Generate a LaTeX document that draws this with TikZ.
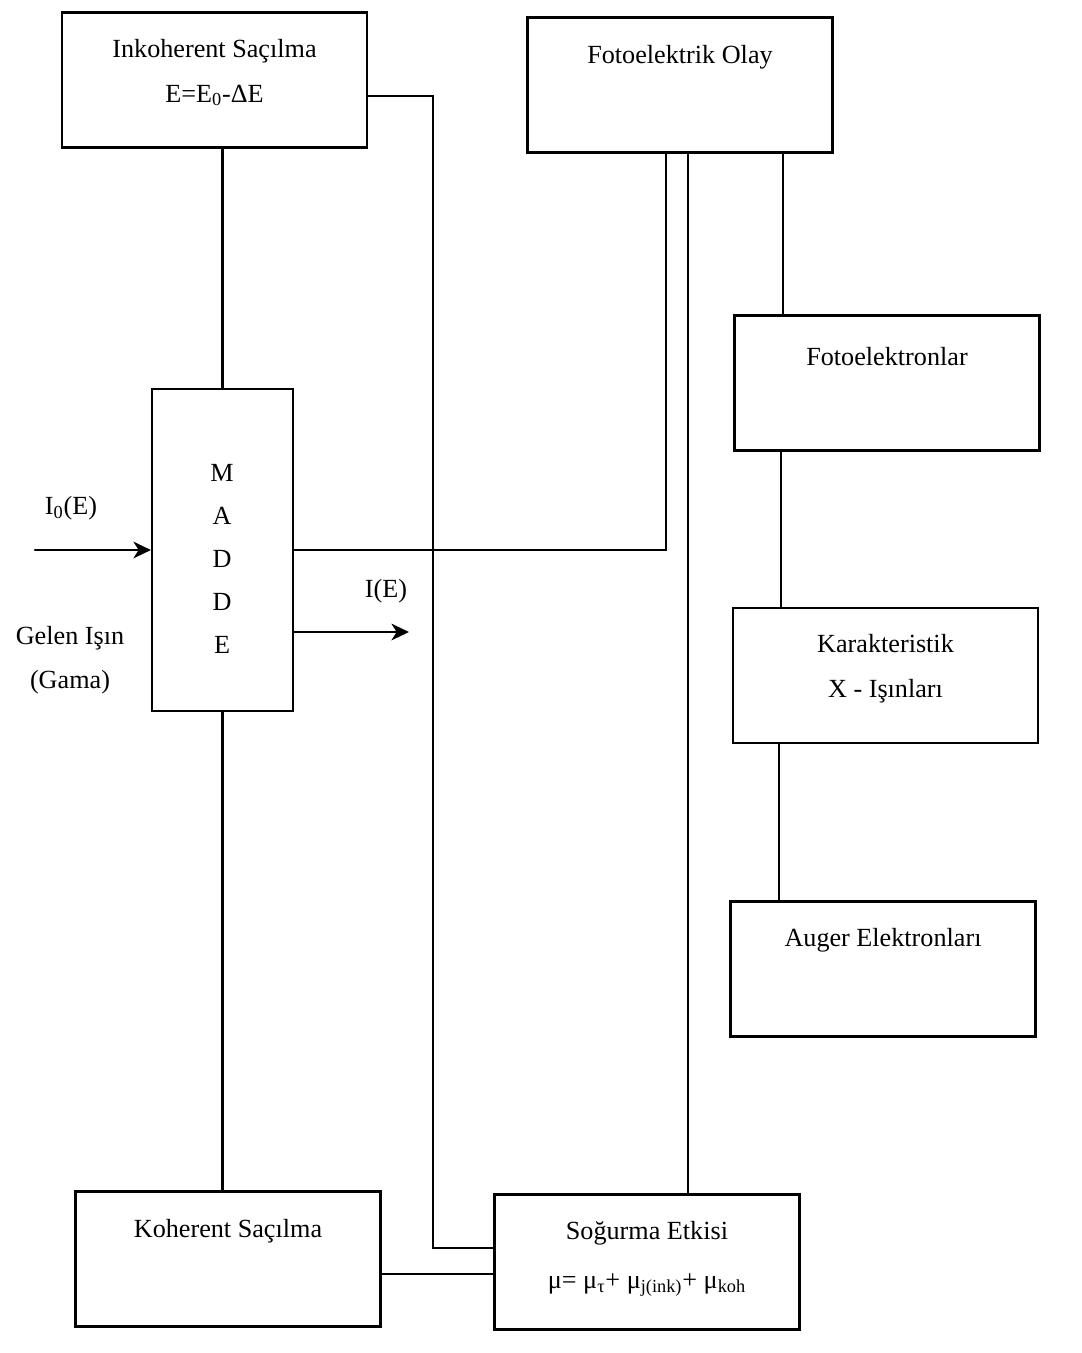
\documentclass[tikz,border=0pt]{standalone}
\usepackage{fontspec}
\setmainfont{Liberation Serif}
\usetikzlibrary{calc, arrows.meta}

\begin{document}
\begin{tikzpicture}
	[x=0.02cm,y=-0.02cm,line cap=round,
	%Styles
	block/.style={draw,rectangle,line width=1.2pt,minimum width=6.1cm,minimum height=2.7cm,inner sep=0pt},
	tall block/.style={block,minimum width=2.82cm,minimum height=6.44cm},
	box text/.style={align=center,inner sep=0pt,font=\fontsize{14.9}{25.6}\selectfont},
	link/.style={line width=1.2pt},
	flow/.style={line width=1.2pt,-{Stealth[length=10pt,width=9.5pt,inset=3pt]}}
	]
	
	\useasboundingbox[fill=white] (0,0) rectangle (1082,1353);
	
	%The boxes
	\node[block] (ink) at (214.5,80) {};
	\node[block] (foto) at (680,85) {};
	\node[block] (fel) at (887,383) {};
	\node[block] (kar) at (885.5,675.5) {};
	\node[block] (auger) at (883,969) {};
	\node[tall block] (madde) at (222.5,550) {};
	\node[block] (kol) at (228,1259) {};
	\node[block] (sog) at (647,1262) {};
	
	%Texts in the boxes
	\node[box text] (inktxt) at ($(ink.north)+(0,61)$) {Inkoherent Saçılma\\E=E\textsubscript{0}-ΔE};
	\node[box text] (fototxt) at ($(foto.north)+(0,41)$) {Fotoelektrik Olay};
	\node[box text] (feltxt) at ($(fel.north)+(0,42)$) {Fotoelektronlar};
	\node[box text] (kartxt) at ($(kar.north)+(0,62)$) {Karakteristik\\X - Işınları};
	\node[box text] (augertxt) at ($(auger.north)+(0,40)$) {Auger Elektronları};
	\node[box text,font=\fontsize{14.9}{24.5}\selectfont] (maddetxt) at (222,559) {M\\A\\D\\D\\E};
	\node[box text] (koltxt) at ($(kol.north)+(0,41)$) {Koherent Saçılma};
	\node[box text,font=\fontsize{14.9}{18}\selectfont] (sogtxt) at ($(sog.north)+(0,65)$) {Soğurma Etkisi\\[10pt]μ= μ\textsubscript{τ}+ μ\textsubscript{j(ink)}+ μ\textsubscript{koh}};
	
	%Beam labels
	\node[box text] (inlbl) at (71,508) {I\textsubscript{0}(E)};
	\node[box text] (outlbl) at (386,591) {I(E)};
	\node[box text] (gelen) at (70,638) {Gelen Işın};
	\node[box text] (gama) at (70,682) {(Gama)};
	
	%Beams
	\coordinate (src) at (35,550);
	\coordinate (iend) at (409,632);
	\draw[flow] (src) -- (madde.west);
	\draw[flow] ($(madde.east)+(0,82)$) -- (iend);
	
	%Connections
	\draw[link] (madde.north |- ink.south) -- (madde.north);
	\draw[link] (madde.south) -- (madde.south |- kol.north);
	\draw[link] ($(ink.east)+(0,16)$) -- ++(65,0) |- ($(sog.west)+(0,-14)$);
	\draw[link] (madde.east) -| ($(foto.south)+(-14,0)$);
	\draw[link] ($(foto.south)+(8,0)$) coordinate (fs) -- (fs |- sog.north);
	\draw[link] ($(foto.south)+(103,0)$) coordinate (fr) -- (fr |- fel.north);
	\draw[link] ($(fel.south)+(-106,0)$) coordinate (fk) -- (fk |- kar.north);
	\draw[link] ($(kar.south)+(-106.5,0)$) coordinate (ka) -- (ka |- auger.north);
	\draw[link] ($(kol.east)+(0,15)$) coordinate (kk) -- (kk -| sog.west);
\end{tikzpicture}
\end{document}
